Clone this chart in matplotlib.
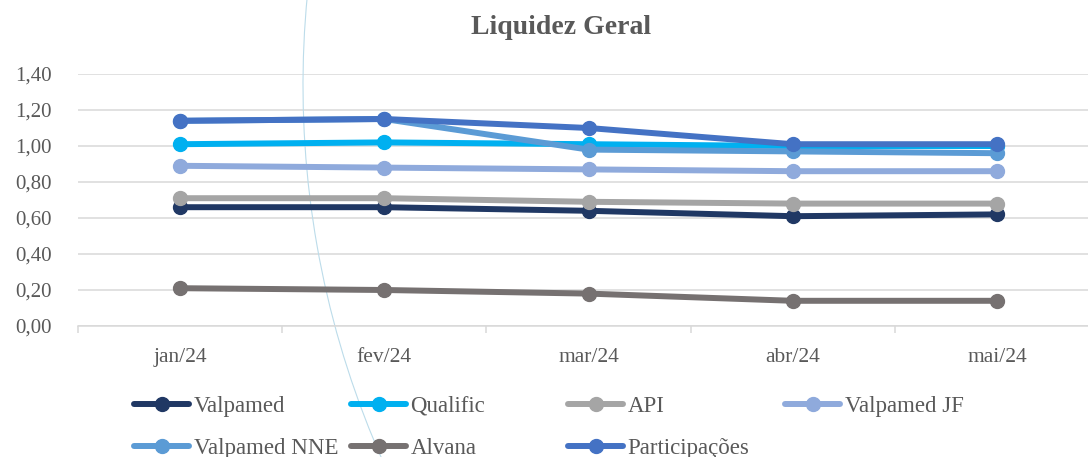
import matplotlib
matplotlib.use('Agg')
import matplotlib.pyplot as plt
from matplotlib.patches import Arc

meses = ['jan/24', 'fev/24', 'mar/24', 'abr/24', 'mai/24']
y_ticks = [0.0, 0.2, 0.4, 0.6, 0.8, 1.0, 1.2, 1.4]

valpamed = [0.66, 0.66, 0.64, 0.61, 0.62]
qualific = [1.01, 1.02, 1.01, 1.00, 1.00]
api = [0.71, 0.71, 0.69, 0.68, 0.68]
valpamed_jf = [0.89, 0.88, 0.87, 0.86, 0.86]
valpamed_nne = [1.14, 1.15, 0.98, 0.97, 0.96]
alvana = [0.21, 0.20, 0.18, 0.14, 0.14]
participacoes = [1.14, 1.15, 1.10, 1.01, 1.01]

series = [
    ('Valpamed', valpamed, '#203864'),
    ('Qualific', qualific, '#00B0F0'),
    ('API', api, '#A5A5A5'),
    ('Valpamed JF', valpamed_jf, '#8FAADC'),
    ('Valpamed NNE', valpamed_nne, '#5B9BD5'),
    ('Alvana', alvana, '#767171'),
    ('Participações', participacoes, '#4472C4'),
]

plt.rcParams['font.family'] = ['Liberation Serif', 'DejaVu Serif']
texto = '#595959'
grade = '#D9D9D9'

W, H = 1088, 457
fig = plt.figure(figsize=(W / 100, H / 100), dpi=100)
ax = fig.add_axes([78 / W, 131 / H, (1099 - 78) / W, 252 / H])

x = list(range(len(meses)))
handles = []
for nome, valores, cor in series:
    h, = ax.plot(x, valores, color=cor, lw=4.3, marker='o', markersize=10,
                 solid_capstyle='round', zorder=3, label=nome)
    handles.append(h)

ax.set_xlim(-0.5, len(meses) - 0.5)
ax.set_ylim(0, 1.4)
ax.set_yticks(y_ticks)
ax.set_yticklabels([f'{v:.2f}'.replace('.', ',') for v in y_ticks])
ax.set_xticks(x)
ax.set_xticklabels(meses)
ax.set_xticks([i - 0.5 for i in range(len(meses) + 1)], minor=True)
ax.tick_params(axis='y', length=0, pad=19, labelsize=15, labelcolor=texto)
ax.tick_params(axis='x', which='major', length=0, pad=16, labelsize=15.5, labelcolor=texto)
ax.tick_params(axis='x', which='minor', length=5, width=1.1, color=grade)
ax.grid(axis='y', color=grade, lw=1.1, zorder=0)
for s in ['top', 'right', 'left']:
    ax.spines[s].set_visible(False)
ax.spines['bottom'].set_color(grade)
ax.spines['bottom'].set_linewidth(1.1)
ax.set_axisbelow(True)

# arco decorativo azul claro que atravessa a figura
arco = Arc((12.29, 3.72), 18.52, 18.52, theta1=165, theta2=215,
           transform=fig.dpi_scale_trans, color='#BCDCEA', lw=0.8,
           clip_on=False, zorder=1)
ax.add_patch(arco)

fig.text(561 / W, 1 - 27 / H, 'Liquidez Geral', ha='center', va='center',
         fontsize=20, fontweight='bold', color=texto)

col_x = [134, 351, 568, 785]
row_y = [406, 448]
for i, h in enumerate(handles):
    lx = col_x[i % 4]
    ly = row_y[i // 4]
    fig.legend(handles=[h], loc='center left',
               bbox_to_anchor=(lx / W, 1 - ly / H), frameon=False,
               fontsize=16.5, labelcolor=texto, borderpad=0, borderaxespad=0,
               handlelength=2.4, handletextpad=0.2)

fig.savefig('out.png', dpi=100, facecolor='white')
